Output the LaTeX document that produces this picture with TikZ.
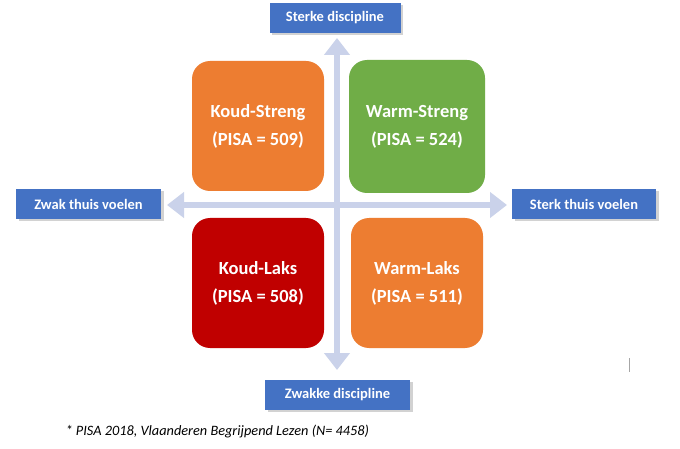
\documentclass[tikz,border=0pt]{standalone}
\usepackage{fontspec}
\setmainfont{Carlito}
\usepackage{tikz}
\usetikzlibrary{arrows.meta,shadows}

\definecolor{kwOrange}{HTML}{ED7D31}
\definecolor{kwGreen}{HTML}{70AD47}
\definecolor{kwRed}{HTML}{C00000}
\definecolor{kwBlue}{HTML}{4472C4}
\definecolor{kwAxis}{HTML}{CAD2EA}

\begin{document}
\begin{tikzpicture}[x=1pt,y=-1pt,
    every node/.style={font=\bfseries, text=white},
    quad/.style={rounded corners=18pt, minimum width=132pt, minimum height=130pt,
        align=center, font=\fontsize{18.5}{28}\selectfont\bfseries},
    axislabel/.style={fill=kwBlue, minimum width=140pt, minimum height=30pt,
        font=\fontsize{14.5}{16}\selectfont\bfseries,
        drop shadow={shadow xshift=2.5pt, shadow yshift=-2.5pt, opacity=0.35}},
    axis/.style={{Triangle[width=25pt,length=17pt]}-{Triangle[width=25pt,length=17pt]}, line width=6pt, kwAxis}]
    \useasboundingbox[fill=white] (0,0) rectangle (680,449);

    % quadrants
    \node[quad, fill=kwOrange] (ks) at (258,126) {Koud-Streng\\(PISA = 509)};
    \node[quad, fill=kwGreen, minimum width=136pt, minimum height=133pt] (ws) at (417,126.5) {Warm-Streng\\(PISA = 524)};
    \node[quad, fill=kwRed] (kl) at (258,283) {Koud-Laks\\(PISA = 508)};
    \node[quad, fill=kwOrange] (wl) at (417,283) {Warm-Laks\\(PISA = 511)};

    % axis labels
    \node[axislabel, minimum width=131pt] (sd) at (335,18) {Sterke discipline};
    \node[axislabel, minimum width=145pt] (zd) at (337.5,394.5) {Zwakke discipline};
    \node[axislabel, minimum width=145pt] (zt) at (88.5,204) {Zwak thuis voelen};
    \node[axislabel, minimum width=144pt] (st) at (584,204) {Sterk thuis voelen};

    % axes
    \coordinate (top) at (337,38);
    \coordinate (bot) at (337,370);
    \coordinate (lft) at (167,205);
    \coordinate (rgt) at (507,205);
    \draw[axis] (top) -- (bot);
    \draw[axis] (lft) -- (rgt);

    \node[anchor=west, text=black, font=\fontsize{14.3}{16}\selectfont\itshape] (note) at (62,432)
        {* PISA 2018, Vlaanderen Begrijpend Lezen (N= 4458)};

    \coordinate (cur) at (629,358);
    \draw[gray!70, line width=0.8pt] (cur) -- ++(0,14);
\end{tikzpicture}
\end{document}
